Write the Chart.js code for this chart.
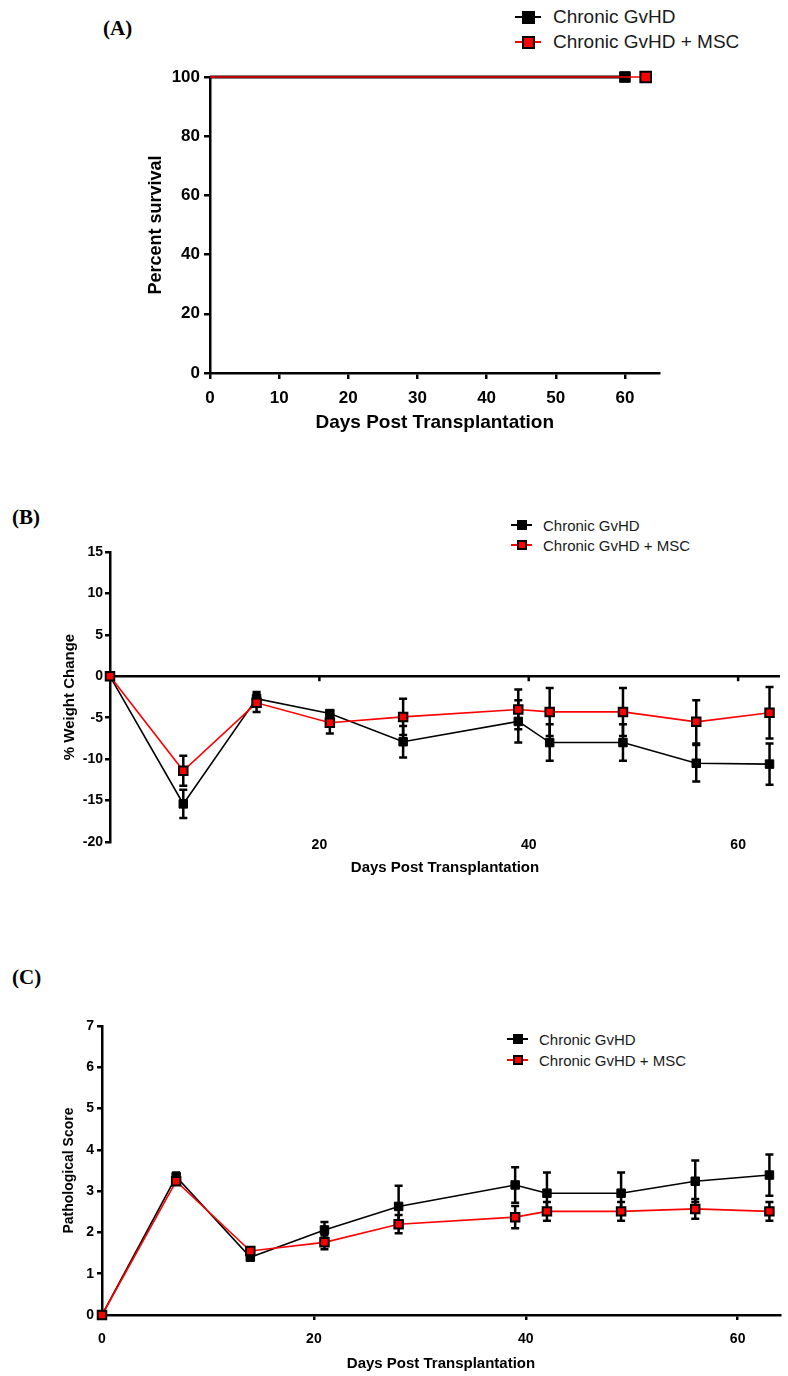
<!DOCTYPE html>
<html>
<head>
<meta charset="utf-8">
<script src="https://cdn.jsdelivr.net/npm/chart.js@4.4.1/dist/chart.umd.min.js"></script>
<style>
  body { margin: 0; background: #fff; width: 788px; height: 1376px; position: relative; overflow: hidden;
         font-family: "Liberation Sans", Arial, sans-serif; color: #000; }
  canvas { position: absolute; left: 0; }
  .painel { position: absolute; font-family: "Liberation Serif", "Times New Roman", serif; font-weight: bold;
            font-size: 21px; line-height: 24px; }
  .linha { position: absolute; display: flex; align-items: center; height: 24px; color: #1a1a1a; white-space: nowrap; }
  .mk { position: relative; display: inline-block; height: 14px; }
  .mk::before { content: ""; position: absolute; left: 0; right: 0; top: 50%; height: 2px; margin-top: -1px; background: #000; }
  .mk::after { content: ""; position: absolute; left: 50%; top: 50%; box-sizing: border-box; background: #000; border: 2px solid #000; }
  .mk.msc::before { background: #ff0000; }
  .mk.msc::after { background: #ff0000; }
  .grande .mk { width: 26px; }
  .grande .mk::after { width: 13px; height: 13px; margin: -6.5px 0 0 -6.5px; }
  .grande span { margin-left: 12px; font-size: 19px; }
  .peq .mk { width: 21px; }
  .peq .mk::after { width: 10px; height: 10px; margin: -5px 0 0 -5px; }
  .peq span { margin-left: 11px; font-size: 15px; }
</style>
</head>
<body>

<div class="painel" style="left:103px;top:16px">(A)</div>
<div class="painel" style="left:12px;top:505px">(B)</div>
<div class="painel" style="left:12px;top:965px">(C)</div>

<div class="linha grande" style="left:515px;top:5px"><i class="mk"></i><span>Chronic GvHD</span></div>
<div class="linha grande" style="left:515px;top:30px"><i class="mk msc"></i><span>Chronic GvHD + MSC</span></div>

<div class="linha peq" style="left:511px;top:513px"><i class="mk"></i><span>Chronic GvHD</span></div>
<div class="linha peq" style="left:511px;top:533px"><i class="mk msc"></i><span>Chronic GvHD + MSC</span></div>

<div class="linha peq" style="left:507px;top:1027px"><i class="mk"></i><span>Chronic GvHD</span></div>
<div class="linha peq" style="left:507px;top:1048px"><i class="mk msc"></i><span>Chronic GvHD + MSC</span></div>

<canvas id="graficoA" width="788" height="450" style="top:0px"></canvas>
<canvas id="graficoB" width="788" height="420" style="top:480px"></canvas>
<canvas id="graficoC" width="788" height="416" style="top:960px"></canvas>

<script>
  /* Dados - sobrevida (A) */
  const diasSobrevGvhd = [0, 60];
  const diasSobrevMsc = [0, 63];
  const sobrevGvhd = [100, 100];
  const sobrevMsc = [100, 100];
  const ticksXA = [0, 10, 20, 30, 40, 50, 60];
  const ticksYA = [0, 20, 40, 60, 80, 100];

  /* Dados - variacao de peso (B) e escore patologico (C) */
  const dias = [0, 7, 14, 21, 28, 39, 42, 49, 56, 63];
  const pesoGvhd = [0, -15.4, -2.7, -4.5, -7.9, -5.45, -8.0, -8.0, -10.5, -10.6];
  const pesoGvhdErro = [0, 1.7, 0.8, 0.4, 1.9, 2.55, 2.2, 2.2, 2.2, 2.5];
  const pesoMsc = [0, -11.4, -3.2, -5.6, -4.9, -4.0, -4.3, -4.3, -5.5, -4.4];
  const pesoMscErro = [0, 1.8, 1.1, 1.3, 2.2, 2.4, 2.9, 2.9, 2.6, 3.1];
  const ticksXB = [20, 40, 60];
  const ticksYB = [-20, -15, -10, -5, 0, 5, 10, 15];

  const escoreGvhd = [0, 3.35, 1.40, 2.06, 2.63, 3.15, 2.95, 2.95, 3.24, 3.39];
  const escoreGvhdErro = [0, 0.1, 0.05, 0.19, 0.5, 0.43, 0.5, 0.5, 0.5, 0.5];
  const escoreMsc = [0, 3.24, 1.55, 1.76, 2.2, 2.37, 2.51, 2.51, 2.57, 2.51];
  const escoreMscErro = [0, 0.08, 0.05, 0.17, 0.22, 0.27, 0.23, 0.23, 0.24, 0.23];
  const ticksXC = [0, 20, 40, 60];
  const ticksYC = [0, 1, 2, 3, 4, 5, 6, 7];

  Chart.defaults.font.family = '"Liberation Sans", Arial, sans-serif';
  Chart.defaults.color = '#000';

  const pares = (xs, ys) => xs.map((x, i) => ({ x: x, y: ys[i] }));
  const fixarTicks = lista => scale => { scale.ticks = lista.map(v => ({ value: v })); };

  // barras de erro (media +/- EP), desenhadas por baixo das linhas
  const barrasErro = {
    id: 'barrasErro',
    beforeDatasetsDraw(chart) {
      const { ctx, scales: { x, y } } = chart;
      ctx.save();
      ctx.strokeStyle = '#000';
      ctx.lineWidth = 2.5;
      chart.data.datasets.forEach(ds => {
        if (!ds.erro) return;
        ds.data.forEach((p, i) => {
          const e = ds.erro[i];
          if (!e) return;
          const px = x.getPixelForValue(p.x);
          const yCima = y.getPixelForValue(p.y + e);
          const yBaixo = y.getPixelForValue(p.y - e);
          ctx.beginPath();
          ctx.moveTo(px, yCima); ctx.lineTo(px, yBaixo);
          ctx.moveTo(px - 4, yCima); ctx.lineTo(px + 4, yCima);
          ctx.moveTo(px - 4, yBaixo); ctx.lineTo(px + 4, yBaixo);
          ctx.stroke();
        });
      });
      ctx.restore();
    }
  };

  // eixo x cruzando em y = 0 (grafico de peso)
  const linhaZero = {
    id: 'linhaZero',
    beforeDatasetsDraw(chart) {
      const { ctx, chartArea, scales: { x, y } } = chart;
      const y0 = y.getPixelForValue(0);
      ctx.save();
      ctx.strokeStyle = '#000';
      ctx.lineWidth = 2.5;
      ctx.beginPath();
      ctx.moveTo(chartArea.left, y0); ctx.lineTo(chartArea.right, y0);
      x.ticks.forEach(t => {
        const px = x.getPixelForValue(t.value);
        ctx.moveTo(px, y0); ctx.lineTo(px, y0 + 5);
      });
      ctx.stroke();
      ctx.restore();
    }
  };

  function serie(dados, cor, erro, raio) {
    const msc = cor !== '#000';
    return {
      data: dados,
      erro: erro,
      borderColor: cor,
      borderWidth: 1.6,
      pointStyle: 'rect',
      pointRadius: raio,
      pointBackgroundColor: msc ? '#ff0000' : '#000',
      pointBorderColor: '#000',
      pointBorderWidth: msc ? 2 : 1,
      order: msc ? 1 : 2,
      clip: false,
      tension: 0
    };
  }

  function eixo(opcoes) {
    return Object.assign({
      type: 'linear',
      border: { color: '#000', width: 2.5 },
      grid: { drawOnChartArea: false, drawTicks: true, tickLength: 5, color: '#000', lineWidth: 2.5 }
    }, opcoes);
  }

  const base = {
    responsive: false,
    animation: false,
    events: [],
    plugins: { legend: { display: false }, tooltip: { enabled: false } }
  };

  /* Grafico A - sobrevida */
  new Chart(document.getElementById('graficoA'), {
    type: 'line',
    data: {
      datasets: [
        Object.assign(serie(pares(diasSobrevGvhd, sobrevGvhd), '#000', null, [0, 7.5]), { borderWidth: 3, stepped: true }),
        Object.assign(serie(pares(diasSobrevMsc, sobrevMsc), '#ff0000', null, [0, 7.5]), { borderWidth: 1.5, stepped: true })
      ]
    },
    options: Object.assign({}, base, {
      layout: { padding: { left: 145, top: 77, right: 128.5, bottom: 12 } },
      scales: {
        x: eixo({
          min: 0, max: 65,
          afterBuildTicks: fixarTicks(ticksXA),
          afterFit: s => { s.height = 65; },
          grid: { drawOnChartArea: false, tickLength: 6, color: '#000', lineWidth: 2.5 },
          ticks: { font: { size: 17, weight: 'bold' }, padding: 9 },
          title: { display: true, text: 'Days Post Transplantation', font: { size: 19, weight: 'bold' }, padding: { top: 0, bottom: 4 } }
        }),
        y: eixo({
          min: 0, max: 100,
          afterBuildTicks: fixarTicks(ticksYA),
          afterFit: s => { s.width = 65; },
          grid: { drawOnChartArea: false, tickLength: 6, color: '#000', lineWidth: 2.5 },
          ticks: { font: { size: 17, weight: 'bold' }, padding: 4 },
          title: { display: true, text: 'Percent survival', font: { size: 18, weight: 'bold' }, padding: { top: 0, bottom: 0 } }
        })
      }
    })
  });

  /* Grafico B - % variacao de peso
     rotulos do eixo x ficam na altura de -20 (mirror evita o recorte) */
  new Chart(document.getElementById('graficoB'), {
    type: 'line',
    data: {
      datasets: [
        serie(pares(dias, pesoGvhd), '#000', pesoGvhdErro, 6),
        serie(pares(dias, pesoMsc), '#ff0000', pesoMscErro, 6)
      ]
    },
    options: Object.assign({}, base, {
      layout: { padding: { left: 61, top: 72, right: 0, bottom: 18 } },
      scales: {
        x: eixo({
          min: 0, max: 64,
          afterBuildTicks: fixarTicks(ticksXB),
          afterFit: s => { s.height = 40; },
          border: { display: false },
          grid: { display: false, drawTicks: false },
          ticks: { font: { size: 14, weight: 'bold' }, padding: -12, mirror: true },
          title: { display: true, text: 'Days Post Transplantation', font: { size: 15, weight: 'bold' }, padding: { top: 0, bottom: 5 } }
        }),
        y: eixo({
          min: -20, max: 15,
          afterBuildTicks: fixarTicks(ticksYB),
          afterFit: s => { s.width = 49; },
          ticks: { font: { size: 14, weight: 'bold' }, padding: 2 },
          title: { display: true, text: '% Weight Change', font: { size: 15, weight: 'bold' }, padding: { top: 0, bottom: 0 } }
        })
      }
    }),
    plugins: [linhaZero, barrasErro]
  });

  /* Grafico C - escore patologico */
  new Chart(document.getElementById('graficoC'), {
    type: 'line',
    data: {
      datasets: [
        serie(pares(dias, escoreGvhd), '#000', escoreGvhdErro, 6),
        serie(pares(dias, escoreMsc), '#ff0000', escoreMscErro, 6)
      ]
    },
    options: Object.assign({}, base, {
      layout: { padding: { left: 61, top: 66, right: 1, bottom: 3 } },
      scales: {
        x: eixo({
          min: 0, max: 64,
          afterBuildTicks: fixarTicks(ticksXC),
          afterFit: s => { s.height = 58; },
          ticks: { font: { size: 14, weight: 'bold' }, padding: 11 },
          title: { display: true, text: 'Days Post Transplantation', font: { size: 15, weight: 'bold' }, padding: { top: 0, bottom: 0 } }
        }),
        y: eixo({
          min: 0, max: 7,
          afterBuildTicks: fixarTicks(ticksYC),
          afterFit: s => { s.width = 41; },
          ticks: { font: { size: 14, weight: 'bold' }, padding: 3 },
          title: { display: true, text: 'Pathological Score', font: { size: 14, weight: 'bold' }, padding: { top: 0, bottom: 0 } }
        })
      }
    }),
    plugins: [barrasErro]
  });
</script>
</body>
</html>
